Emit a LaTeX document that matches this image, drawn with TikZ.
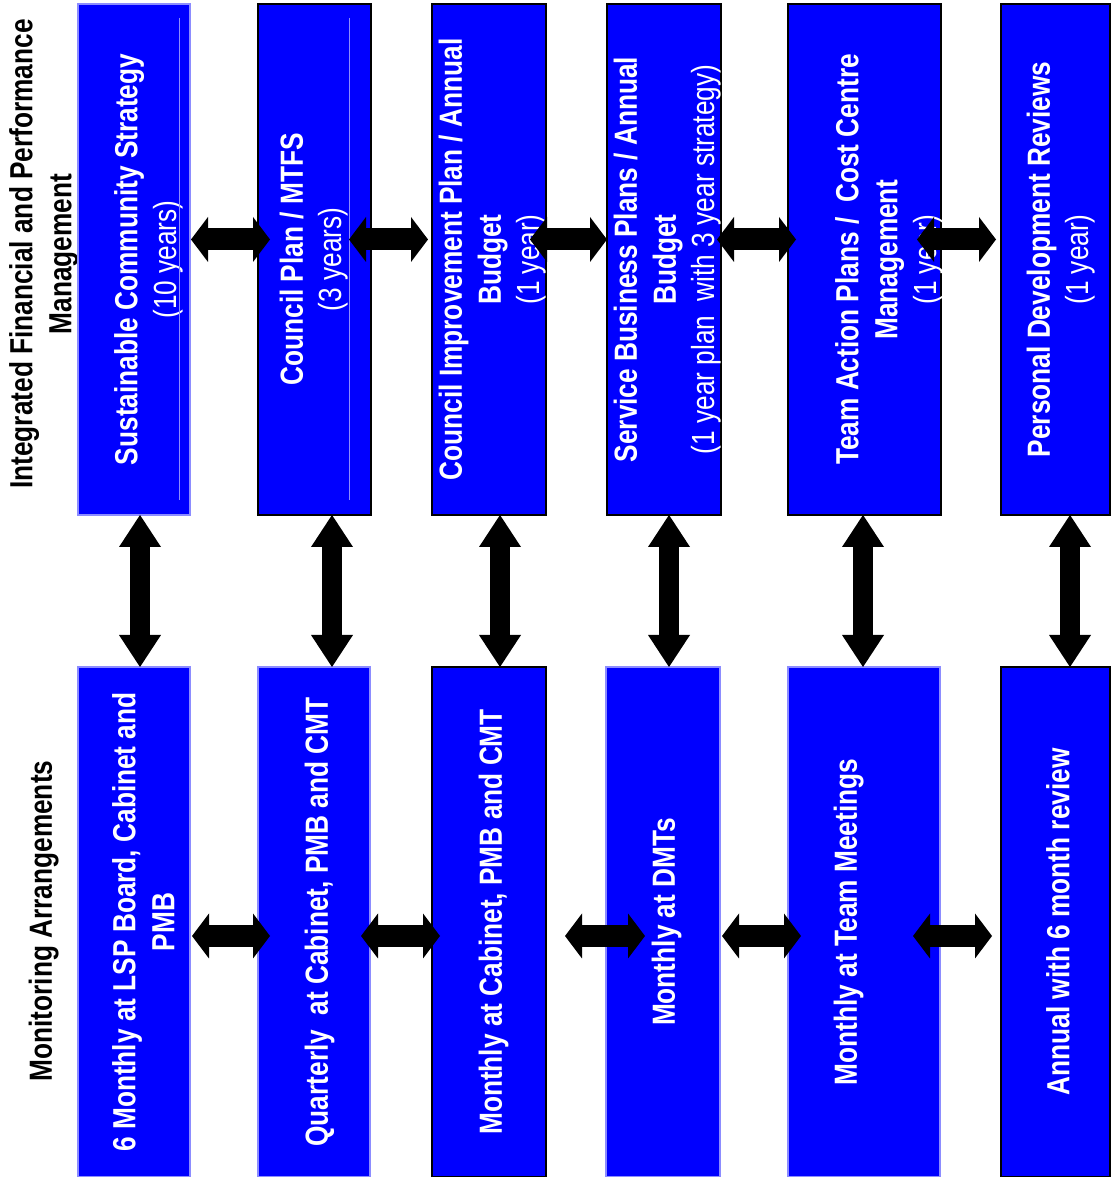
\documentclass[tikz,border=0pt]{standalone}
\usepackage{fontspec}
\usepackage{graphicx}
\usepackage{xcolor}
\usetikzlibrary{arrows.meta}
\setmainfont{Liberation Sans}[FakeStretch=0.82]
\newcommand{\vlines}[2][0pt]{\makebox[0pt]{\hspace*{#1}\hspace*{#1}\rotatebox{90}{\begin{tabular}{@{}c@{}}#2\end{tabular}}}}
\newcommand{\yrs}[1]{{\mdseries #1}}

\begin{document}
\begin{tikzpicture}[x=0.5pt, y=0.5pt,
  box/.style={draw=black, line width=1pt, fill=blue, text=white, inner sep=0pt, outer sep=0pt, minimum height=255pt, font=\bfseries\fontsize{16}{19.5}\selectfont},
  softbox/.style={box, draw=blue!45, line width=0.6pt},
  title/.style={inner sep=0pt, font=\bfseries\fontsize{16}{19.5}\selectfont},
  varrow/.style={<->, line width=10pt, >={Triangle[width=21pt, length=16pt, line width=0pt]}},
  harrow/.style={<->, line width=11pt, >={Triangle[width=22.5pt, length=8.5pt, line width=0pt]}},
  seam/.style={draw=blue!45, line width=0.5pt}
]
  \useasboundingbox (0,0) rectangle (1111,1177);

  \node[title] (plan) at (44,923) {\vlines{Integrated Financial and Performance\\Management}};
  \node[title] (mon) at (44,256) {\vlines{Monitoring Arrangements}};

  \node[softbox, minimum width=56pt, minimum height=255.5pt] (scs) at (134,917.5) {\vlines[7.5pt]{Sustainable Community Strategy\\\yrs{(10 years)}}};
  \node[box, minimum width=56.5pt, minimum height=255.5pt] (cplan) at (314.5,917.5) {\vlines{Council Plan / MTFS\\\yrs{(3 years)}}};
  \node[box, minimum width=57pt, minimum height=255.5pt] (cip) at (489,917.5) {\vlines[2pt]{Council Improvement Plan / Annual\\Budget\\\yrs{(1 year)}}};
  \node[box, minimum width=57pt, minimum height=255.5pt] (sbp) at (664,917.5) {\vlines[2pt]{Service Business Plans / Annual\\Budget\\\yrs{(1 year plan\ \ with 3 year strategy)}}};
  \node[box, minimum width=76.5pt, minimum height=255.5pt] (tap) at (864.5,917.5) {\vlines[12.5pt]{Team Action Plans /\ \ Cost Centre\\Management\\\yrs{(1 year)}}};
  \node[box, minimum width=54.5pt, minimum height=255.5pt] (pdr) at (1055.5,917.5) {\vlines[3pt]{Personal Development Reviews\\\yrs{(1 year)}}};

  \node[softbox, minimum width=56pt] (lsp) at (134,255) {\vlines[6.5pt]{6 Monthly at LSP Board, Cabinet and\\PMB}};
  \node[softbox, minimum width=56pt] (qtr) at (314,255) {\vlines[3pt]{Quarterly\ \ at Cabinet, PMB and CMT}};
  \node[box, minimum width=57pt] (mcab) at (489,255) {\vlines[2.5pt]{Monthly at Cabinet, PMB and CMT}};
  \node[softbox, minimum width=57pt] (dmt) at (663,255) {\vlines[2pt]{Monthly at DMTs}};
  \node[softbox, minimum width=76pt] (team) at (864,255) {\vlines[-7.5pt]{Monthly at Team Meetings}};
  \node[box, minimum width=54.5pt] (annual) at (1055.5,255) {\vlines[3pt]{Annual with 6 month review}};

  \draw[seam] ([shift={(-5.5pt,-7pt)}]scs.north east) -- ([shift={(-5.5pt,7.5pt)}]scs.south east);
  \draw[seam] ([shift={(-11pt,-7pt)}]cplan.north east) -- ([shift={(-11pt,7.5pt)}]cplan.south east);

  \draw[harrow] ([shift={(0.5pt,10pt)}]scs.east) -- ([shift={(6pt,10pt)}]cplan.west);
  \draw[harrow] ([shift={(-11pt,10pt)}]cplan.east) -- ([shift={(-2pt,10pt)}]cip.west);
  \draw[harrow] ([shift={(-8pt,10pt)}]cip.east) -- ([shift={(0pt,10pt)}]sbp.west);
  \draw[harrow] ([shift={(-2pt,10pt)}]sbp.east) -- ([shift={(4pt,10pt)}]tap.west);
  \draw[harrow] ([shift={(-12pt,10pt)}]tap.east) -- ([shift={(-2.5pt,10pt)}]pdr.west);

  \draw[harrow] ([shift={(1pt,-7pt)}]lsp.east) -- ([shift={(6pt,-7pt)}]qtr.west);
  \draw[harrow] ([shift={(-4.5pt,-7pt)}]qtr.east) -- ([shift={(4pt,-7pt)}]mcab.west);
  \draw[harrow] ([shift={(9.5pt,-7pt)}]mcab.east) -- ([shift={(19.5pt,-7pt)}]dmt.west);
  \draw[harrow] ([shift={(1pt,-7pt)}]dmt.east) -- ([shift={(6.5pt,-7pt)}]team.west);
  \draw[harrow] ([shift={(-13.5pt,-7pt)}]team.east) -- ([shift={(-4.5pt,-7pt)}]annual.west);

  \draw[varrow] ([xshift=3pt]scs.south) -- ([xshift=3pt]lsp.north);
  \draw[varrow] ([xshift=8.75pt]cplan.south) -- ([xshift=9pt]qtr.north);
  \draw[varrow] ([xshift=5.5pt]cip.south) -- ([xshift=5.5pt]mcab.north);
  \draw[varrow] ([xshift=2.5pt]sbp.south) -- ([xshift=3pt]dmt.north);
  \draw[varrow] ([xshift=-0.75pt]tap.south) -- ([xshift=-0.5pt]team.north);
  \draw[varrow] ([xshift=7.25pt]pdr.south) -- ([xshift=7.25pt]annual.north);
\end{tikzpicture}
\end{document}
